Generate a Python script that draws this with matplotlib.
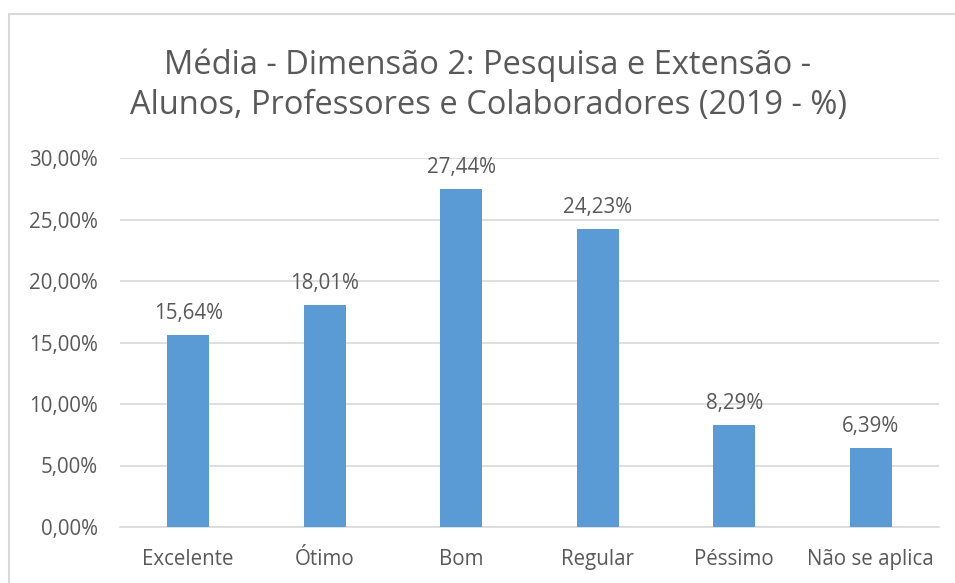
import matplotlib
matplotlib.use("Agg")
import matplotlib.pyplot as plt
from matplotlib.patches import Rectangle
from matplotlib.ticker import FuncFormatter

categories = ["Excelente", "Ótimo", "Bom", "Regular", "Péssimo", "Não se aplica"]
values = [15.64, 18.01, 27.44, 24.23, 8.29, 6.39]
yticks = [0, 5, 10, 15, 20, 25, 30]

plt.rcParams['font.family'] = ['Open Sans', 'DejaVu Sans']
txt = '#595959'

W, H = 955, 583
fig = plt.figure(figsize=(W/100, H/100), dpi=100)
fig.patch.set_facecolor('white')

# chart border (only left and top visible)
fig.patches.append(Rectangle((8.5/W, -0.05), 1.1, 1 - 13.5/H + 0.05, transform=fig.transFigure,
                             fill=False, edgecolor='#d9d9d9', linewidth=1.5))

left, right = 120/W, 939/W
bottom, top = 1 - 527/H, 1 - 158/H
ax = fig.add_axes([left, bottom, right - left, top - bottom])

x = list(range(len(categories)))
ax.bar(x, values, width=0.31, color='#5b9bd5', zorder=3)
for xi, v in zip(x, values):
    ax.annotate(f"{v:.2f}%".replace('.', ','), (xi, v), xytext=(0, 8), textcoords='offset points',
                ha='center', va='bottom', fontsize=14.8, color=txt)

ax.set_xlim(-0.5, len(categories) - 0.5)
ax.set_ylim(0, 30)
ax.set_yticks(yticks)
ax.yaxis.set_major_formatter(FuncFormatter(lambda v, p: f"{v:.2f}%".replace('.', ',')))
ax.set_xticks(x)
ax.set_xticklabels(categories)
ax.tick_params(axis='both', length=0, labelsize=14.8, colors=txt)
ax.tick_params(axis='y', pad=16)
ax.tick_params(axis='x', pad=16)
ax.grid(axis='y', color='#d9d9d9', linewidth=1.2, zorder=0)
for s in ['top', 'right', 'left']:
    ax.spines[s].set_visible(False)
ax.spines['bottom'].set_color('#d9d9d9')
ax.spines['bottom'].set_linewidth(1.2)

fig.text(488/W, 1 - 85/H, "Média - Dimensão 2: Pesquisa e Extensão -\nAlunos, Professores e Colaboradores (2019 - %)",
         ha='center', va='center', fontsize=23.5, color=txt, linespacing=1.3)

fig.savefig("out.png", dpi=100)
